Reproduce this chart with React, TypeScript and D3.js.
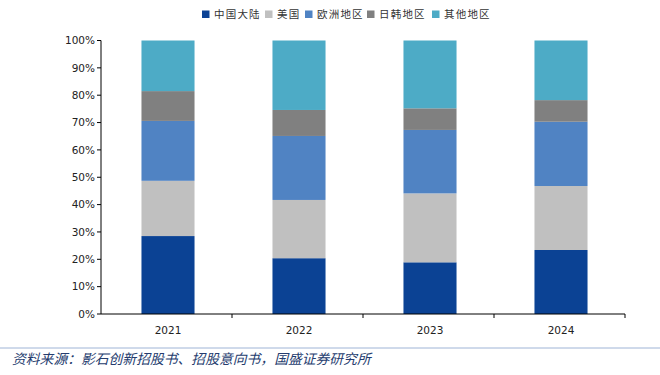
import React, { useEffect } from 'react';
import * as d3 from 'd3';

// 各年份收入地区占比（%）
const years = ['2021', '2022', '2023', '2024'];
const regions = ['中国大陆', '美国', '欧洲地区', '日韩地区', '其他地区'];
const chinaShare = [28.5, 20.4, 18.9, 23.4];
const usShare = [20.2, 21.3, 25.2, 23.4];
const europeShare = [21.9, 23.4, 23.2, 23.5];
const japanKoreaShare = [10.9, 9.5, 7.9, 7.9];
const otherShare = [18.5, 25.4, 24.8, 21.8];
const yTicks = [0, 10, 20, 30, 40, 50, 60, 70, 80, 90, 100];
const source = '资料来源：影石创新招股书、招股意向书，国盛证券研究所';

const colors = ['#0b4294', '#c0c0c0', '#5083c3', '#808080', '#4dabc6'];

const W = 660;
const H = 375;
const left = 101;
const right = 625;
const top = 40.5;
const bottom = 314;

export default function App() {
  useEffect(() => {
    document.body.style.margin = '0';
  }, []);

  const rows = years.map((y, i) => ({
    year: y,
    中国大陆: chinaShare[i],
    美国: usShare[i],
    欧洲地区: europeShare[i],
    日韩地区: japanKoreaShare[i],
    其他地区: otherShare[i],
  }));

  const series = d3.stack<any>().keys(regions)(rows);

  const x = d3.scaleBand().domain(years).range([left, right]).paddingInner(0.595).paddingOuter(0.2975);
  const y = d3.scaleLinear().domain([0, 100]).range([bottom, top]);
  const barShift = 1.5;

  const axisFont = "'DejaVu Sans', Verdana, sans-serif";
  const cjkFont = "'Noto Sans CJK SC', sans-serif";

  // 图例小方块的位置
  const legendX = [202, 265, 305, 367, 432];

  return (
    <svg width={W} height={H} style={{ display: 'block', background: '#fff' }}>
      {/* legend */}
      {regions.map((r, i) => (
        <g key={r} transform={`translate(${legendX[i]},9)`}>
          <rect width={7.5} height={7.5} y={1.5} fill={colors[i]} />
          <text x={12} y={9} fontSize={10.5} fontFamily={cjkFont} fill="#333" letterSpacing={1.2}>
            {r}
          </text>
        </g>
      ))}

      {/* bars */}
      {series.map((s, si) => (
        <g key={s.key} fill={colors[si]}>
          {s.map((d, i) => (
            <rect
              key={i}
              x={(x(years[i]) as number) + barShift}
              y={y(d[1])}
              width={x.bandwidth()}
              height={y(d[0]) - y(d[1])}
            />
          ))}
        </g>
      ))}

      {/* y axis */}
      <line x1={left} x2={left} y1={top} y2={bottom} stroke="#000" strokeWidth={1} />
      {yTicks.map((t) => (
        <g key={t}>
          <line x1={left - 4} x2={left} y1={y(t)} y2={y(t)} stroke="#000" />
          <text
            x={left - 6}
            y={y(t)}
            dy="0.35em"
            textAnchor="end"
            fontSize={10.5}
            fontFamily={axisFont}
            fill="#222"
          >
            {t}%
          </text>
        </g>
      ))}

      {/* x axis */}
      <line x1={left} x2={right} y1={bottom} y2={bottom} stroke="#000" strokeWidth={1} />
      {years.map((yr, i) => {
        const edge = left + x.step() * (i + 1);
        return (
          <g key={yr}>
            <line x1={edge} x2={edge} y1={bottom} y2={bottom + 4} stroke="#000" />
            <text
              x={(x(yr) as number) + x.bandwidth() / 2 + barShift}
              y={334}
              textAnchor="middle"
              fontSize={10.5}
              fontFamily={axisFont}
              fill="#222"
            >
              {yr}
            </text>
          </g>
        );
      })}

      {/* source */}
      <line x1={0} x2={W} y1={348} y2={348} stroke="#9fb4d6" strokeWidth={1} />
      <text x={12} y={364} fontSize={13.8} fontStyle="italic" fontFamily={cjkFont} fill="#253c6e">
        {source}
      </text>
    </svg>
  );
}
